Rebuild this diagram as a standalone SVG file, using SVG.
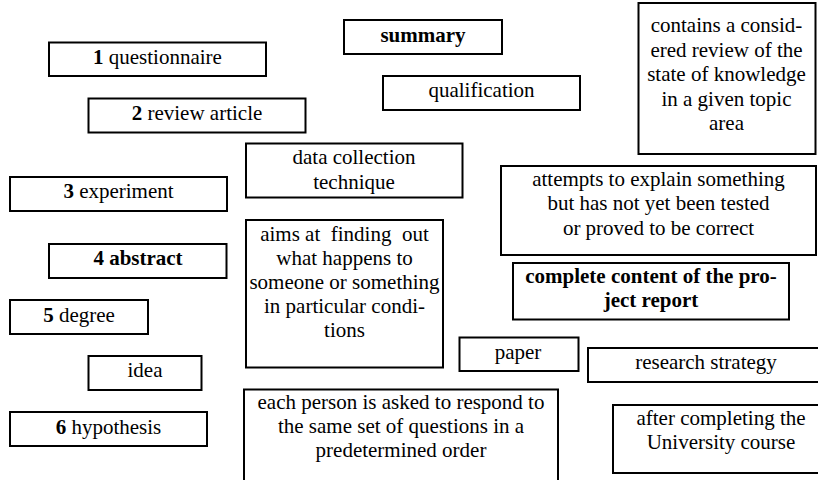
<svg xmlns="http://www.w3.org/2000/svg" width="818" height="480" viewBox="0 0 818 480">
  <style>
    .box { fill: #ffffff; stroke: #000000; stroke-width: 2; }
    .t { font-family: "Liberation Serif", "Times New Roman", Times, serif; font-size: 21px; fill: #000000; text-anchor: middle; white-space: pre; }
    .b { font-weight: bold; }
  </style>
  <rect x="0" y="0" width="818" height="480" fill="#ffffff"/>

  <!-- left column: numbered terms -->
  <g id="term-questionnaire">
    <rect class="box" x="49" y="42.5" width="217" height="33.5"/>
    <text class="t" x="157.5" y="63.5"><tspan class="b">1</tspan> questionnaire</text>
  </g>
  <g id="term-review-article">
    <rect class="box" x="88.5" y="98.5" width="217" height="34"/>
    <text class="t" x="197" y="119.5"><tspan class="b">2</tspan> review article</text>
  </g>
  <g id="term-experiment">
    <rect class="box" x="10" y="177" width="217" height="34"/>
    <text class="t" x="118.5" y="198"><tspan class="b">3</tspan> experiment</text>
  </g>
  <g id="term-abstract">
    <rect class="box" x="49" y="244" width="177.5" height="34"/>
    <text class="t b" x="138" y="265">4 abstract</text>
  </g>
  <g id="term-degree">
    <rect class="box" x="10" y="300" width="138" height="34"/>
    <text class="t" x="79" y="321.5"><tspan class="b">5</tspan> degree</text>
  </g>
  <g id="word-idea">
    <rect class="box" x="88.5" y="356" width="113" height="34"/>
    <text class="t" x="145" y="377">idea</text>
  </g>
  <g id="term-hypothesis">
    <rect class="box" x="10" y="412" width="197" height="34"/>
    <text class="t" x="108.5" y="433.5"><tspan class="b">6</tspan> hypothesis</text>
  </g>

  <!-- middle column: definitions and distractors -->
  <g id="word-summary">
    <rect class="box" x="344" y="20" width="158" height="34"/>
    <text class="t b" x="423" y="41.5">summary</text>
  </g>
  <g id="word-qualification">
    <rect class="box" x="383" y="76" width="197" height="34"/>
    <text class="t" x="481.5" y="97">qualification</text>
  </g>
  <g id="def-data-collection">
    <rect class="box" x="246" y="143.5" width="216.5" height="54"/>
    <text class="t" x="354" y="164">data collection</text>
    <text class="t" x="354" y="188.5">technique</text>
  </g>
  <g id="def-aims">
    <rect class="box" x="246" y="220" width="197" height="147.5"/>
    <text class="t" x="344.5" y="240.5">aims at  finding  out</text>
    <text class="t" x="344.5" y="264.5">what happens to</text>
    <text class="t" x="344.5" y="288.5">someone or something</text>
    <text class="t" x="344.5" y="312.5">in particular condi-</text>
    <text class="t" x="344.5" y="337">tions</text>
  </g>
  <g id="def-each-person">
    <rect class="box" x="244" y="389.5" width="314" height="100"/>
    <text class="t" x="401" y="408.5">each person is asked to respond to</text>
    <text class="t" x="401" y="433">the same set of questions in a</text>
    <text class="t" x="401" y="457">predetermined order</text>
  </g>
  <g id="word-paper">
    <rect class="box" x="459.5" y="337.5" width="119" height="33.5"/>
    <text class="t" x="518" y="358.5">paper</text>
  </g>

  <!-- right column -->
  <g id="def-contains">
    <rect class="box" x="638.5" y="3" width="177" height="151"/>
    <text class="t" x="726.5" y="32.3">contains a consid-</text>
    <text class="t" x="726.5" y="56.7">ered review of the</text>
    <text class="t" x="726.5" y="81.1">state of knowledge</text>
    <text class="t" x="726.5" y="105.5">in a given topic</text>
    <text class="t" x="726.5" y="129.9">area</text>
  </g>
  <g id="def-attempts">
    <rect class="box" x="501" y="166" width="315" height="89"/>
    <text class="t" x="658.5" y="185.5">attempts to explain something</text>
    <text class="t" x="658.5" y="210">but has not yet been tested</text>
    <text class="t" x="658.5" y="234.5">or proved to be correct</text>
  </g>
  <g id="def-complete-content">
    <rect class="box" x="513" y="263" width="276" height="56.5"/>
    <text class="t b" x="651" y="282.5">complete content of the pro-</text>
    <text class="t b" x="651" y="307">ject report</text>
  </g>
  <g id="word-research-strategy">
    <rect class="box" x="588" y="348" width="240" height="34"/>
    <text class="t" x="706" y="368.5">research strategy</text>
  </g>
  <g id="def-after-completing">
    <rect class="box" x="613" y="405" width="220" height="68"/>
    <text class="t" x="721" y="424.5">after completing the</text>
    <text class="t" x="721" y="449">University course</text>
  </g>

  <!-- no connecting lines between the cards -->
  <g id="connectors"/>
</svg>
